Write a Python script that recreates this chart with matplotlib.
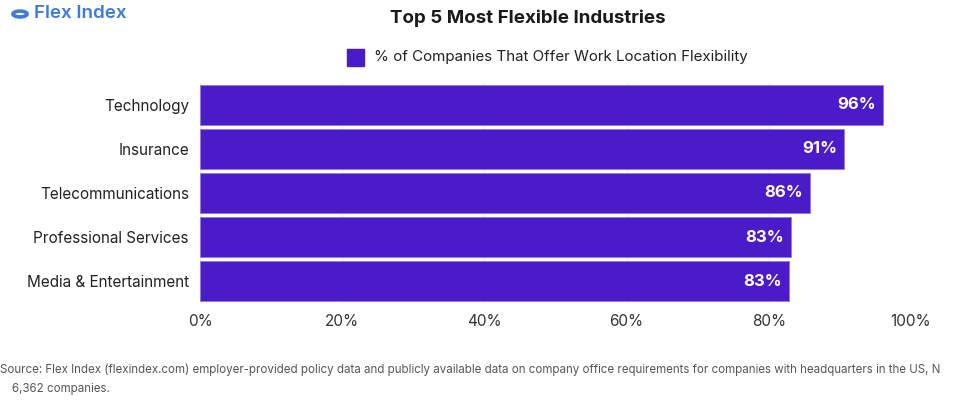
import matplotlib.pyplot as plt
from matplotlib.patches import Rectangle, Circle

# data
industries = ['Technology', 'Insurance', 'Telecommunications',
              'Professional Services', 'Media & Entertainment']
pct_flexible = [96.1, 90.6, 85.8, 83.1, 82.8]
xticks = [0, 20, 40, 60, 80, 100]
xtick_labels = ['0%', '20%', '40%', '60%', '80%', '100%']

bar_color = '#4B1BC9'
plt.rcParams['font.family'] = ['Inter', 'DejaVu Sans']

fig = plt.figure(figsize=(9.55, 4.0), dpi=100)
ax = fig.add_axes([200 / 955, 1 - 303 / 400, 711 / 955, 220 / 400])

ypos = list(range(len(industries)))
ax.barh(ypos, pct_flexible, height=0.93, color=bar_color,
        edgecolor='#8f7be0', linewidth=0.6, zorder=3)
for y, v in zip(ypos, pct_flexible):
    ax.text(v - 1.0, y, '%d%%' % round(v), ha='right', va='center',
            color='white', fontsize=12, fontweight='bold', zorder=4)

ax.set_ylim(len(industries) - 0.5, -0.5)
ax.set_yticks(ypos)
ax.set_yticklabels(industries, fontsize=11, color='#222222')
ax.set_xlim(0, 100)
ax.set_xticks(xticks)
ax.set_xticklabels(xtick_labels, fontsize=11, color='#333333')
ax.tick_params(length=0, pad=8)
ax.tick_params(axis='y', pad=8)
ax.grid(axis='x', color='#ececec', linewidth=0.8, zorder=0)
for s in ax.spines.values():
    s.set_visible(False)

# title and legend
fig.text(528 / 955, 1 - 18 / 400, 'Top 5 Most Flexible Industries',
         ha='center', va='center', fontsize=13.5, fontweight='bold', color='#1a1a1a')
fig.patches.append(Rectangle((347 / 955, 1 - 66 / 400), 17 / 955, 17 / 400,
                             transform=fig.transFigure, color=bar_color))
fig.text(374 / 955, 1 - 57 / 400, '% of Companies That Offer Work Location Flexibility',
         ha='left', va='center', fontsize=10.9, color='#222222')

# logo
fig.patches.append(Circle((20 / 955, 1 - 14 / 400), 7 / 955,
                          transform=fig.transFigure, facecolor='none',
                          edgecolor='#3b7be0', linewidth=2.6))
fig.text(34 / 955, 1 - 14 / 400, 'Flex Index', ha='left', va='center',
         fontsize=13.5, fontweight='semibold', color='#3b7be0')

# source note
fig.text(0, 1 - 370 / 400,
         'Source: Flex Index (flexindex.com) employer-provided policy data and publicly available data on '
         'company office requirements for companies with headquarters in the US, N',
         ha='left', va='center', fontsize=8.3, color='#555555')
fig.text(12 / 955, 1 - 389 / 400, '6,362 companies.', ha='left', va='center',
         fontsize=8.3, color='#555555')

fig.savefig('out.png', dpi=100)
